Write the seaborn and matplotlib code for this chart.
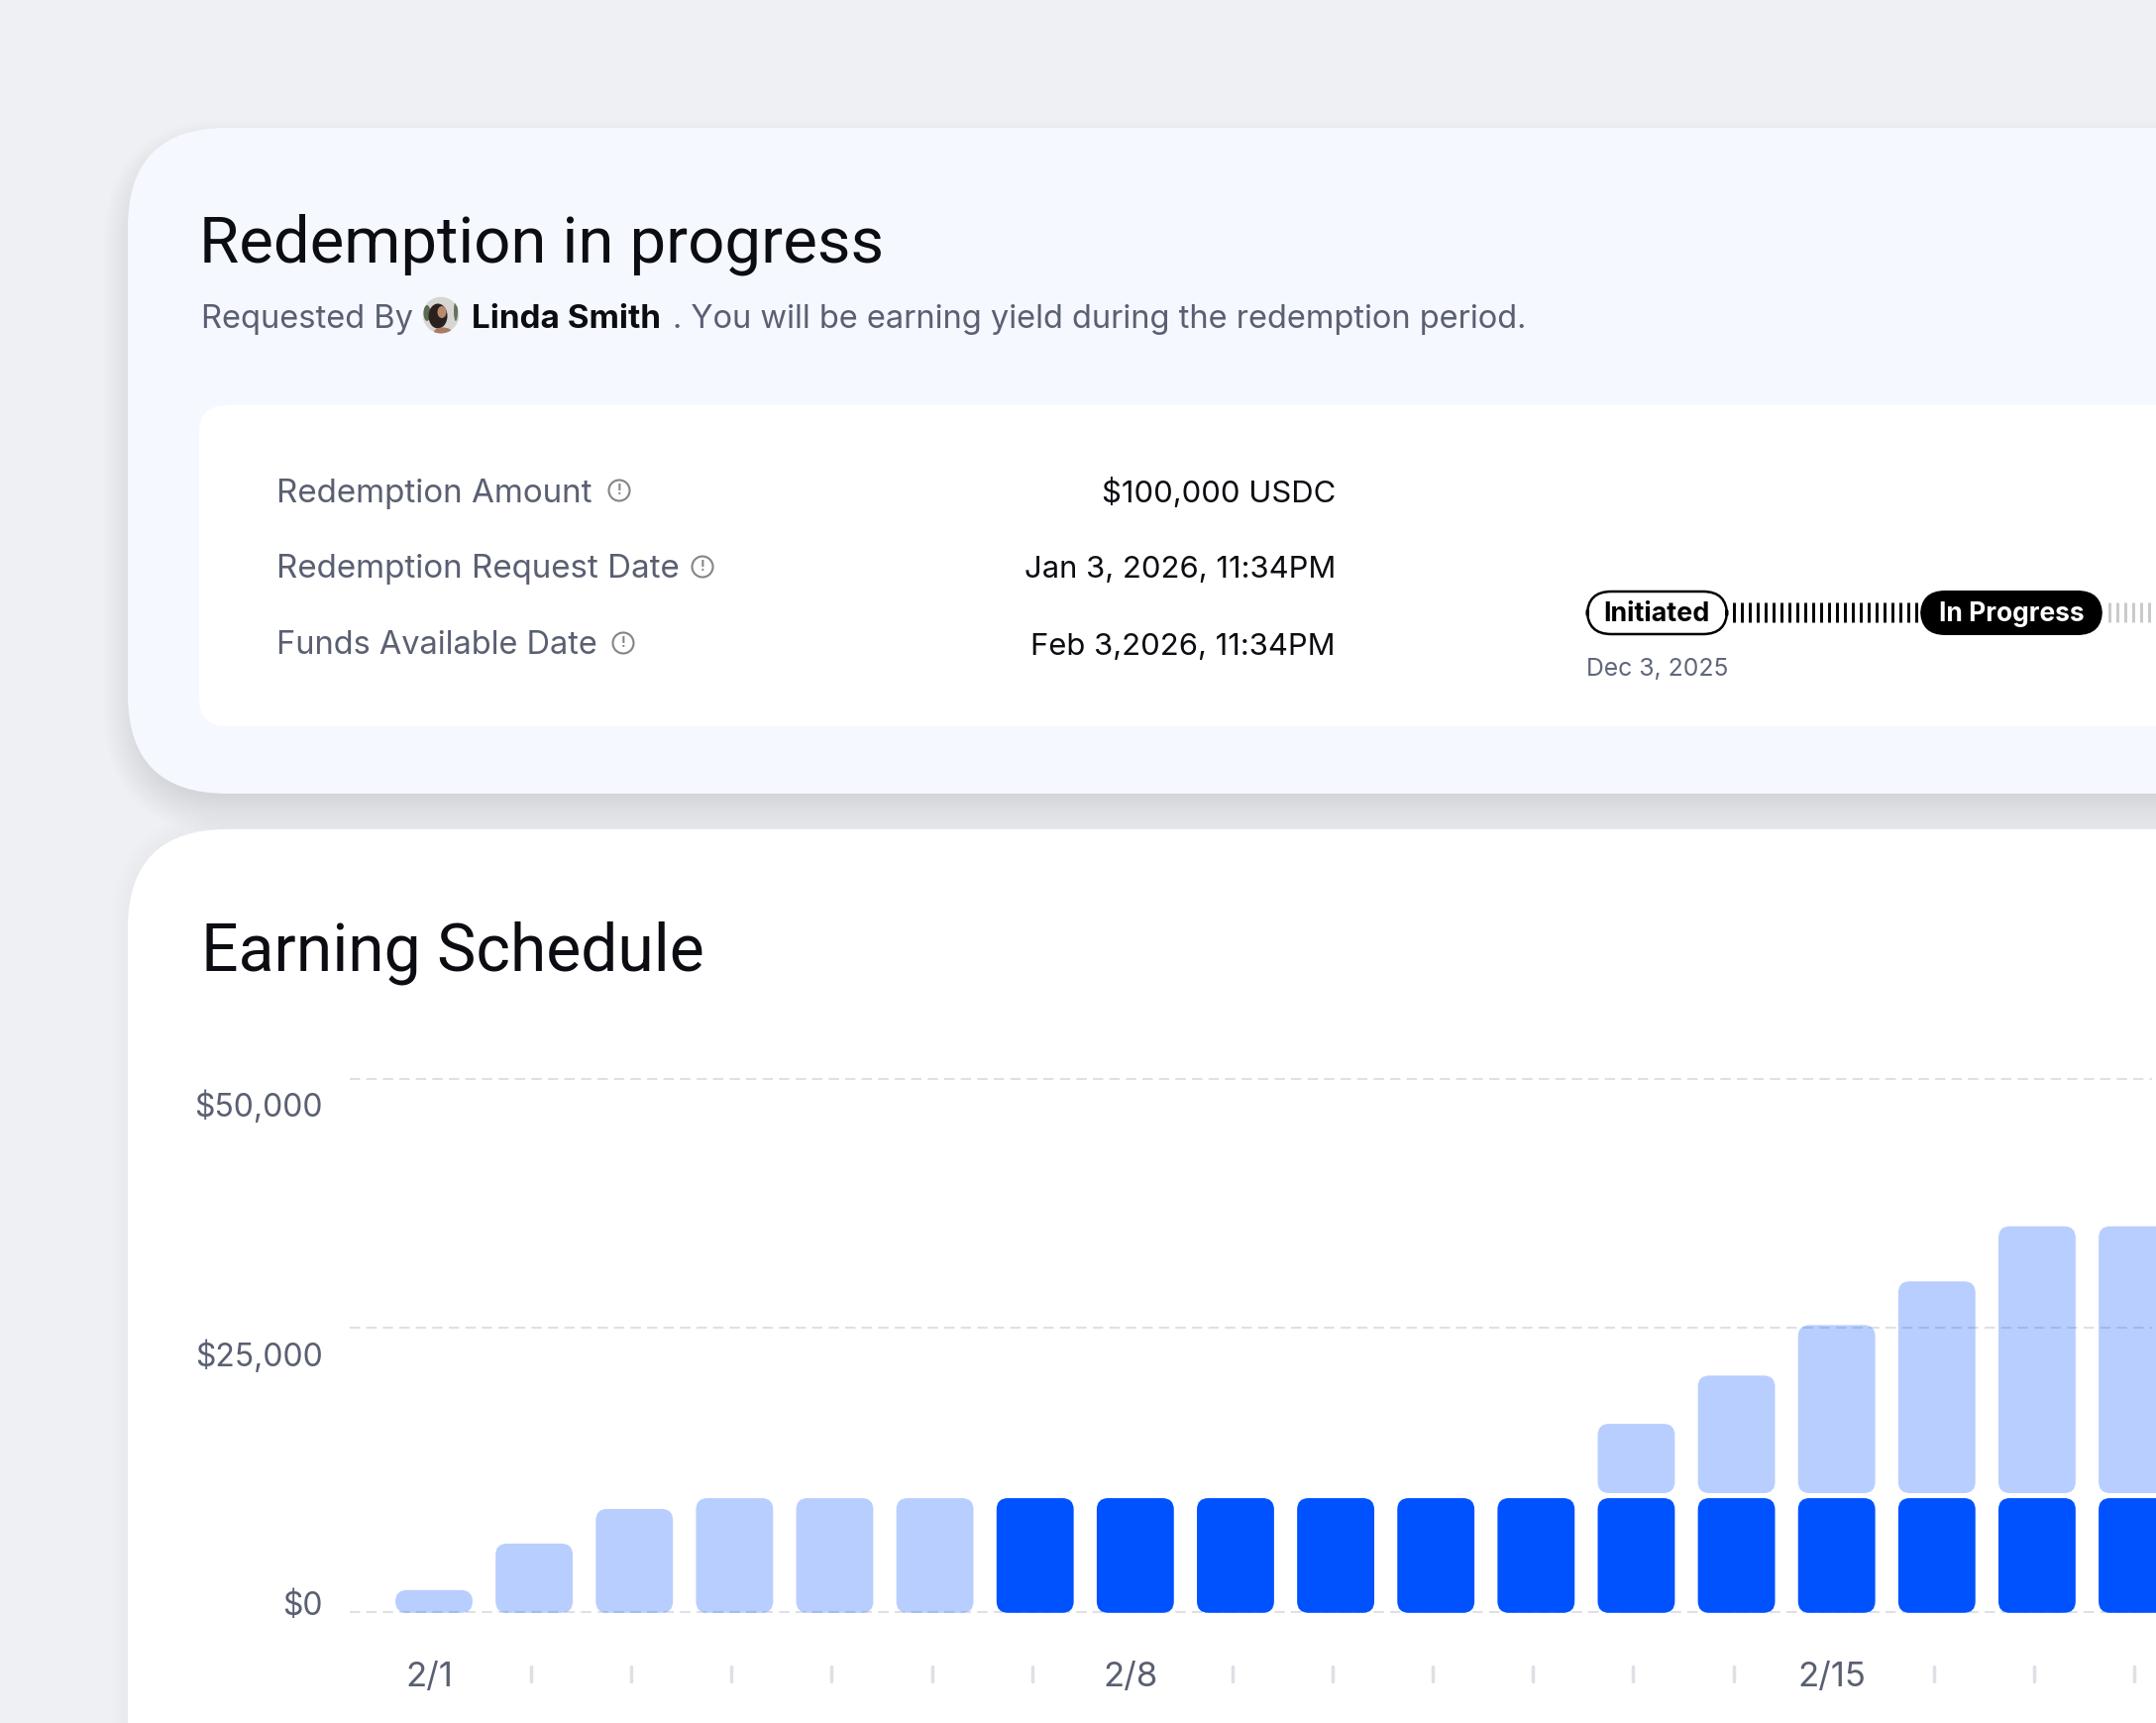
# Redemption card + earning schedule chart
import numpy as np
import matplotlib
matplotlib.use("Agg")
import matplotlib.pyplot as plt
from matplotlib.patches import FancyBboxPatch, Circle, Ellipse
import seaborn as sns

# -----------------------------
# Data
# -----------------------------
days = [f"2/{d}" for d in range(1, 19)]
settled = [0, 0, 0, 0, 0, 0, 10000, 10000, 10000, 10000, 10000, 10000,
           10000, 10000, 10000, 10000, 10000, 10000]
pending_top = [1900, 6000, 9050, 10000, 10000, 10000, 0, 0, 0, 0, 0, 0,
               16550, 20800, 25250, 29100, 33950, 33950]
grid_values = [0, 25000, 46900]          # the $50,000 line sits lower than a true scale
y_labels = ["$0", "$25,000", "$50,000"]
y_label_values = [750, 22750, 44750]
label_every = 7

summary_labels = ["Redemption Amount", "Redemption Request Date", "Funds Available Date"]
summary_values = ["$100,000 USDC", "Jan 3, 2026, 11:34PM", "Feb 3,2026, 11:34PM"]

# -----------------------------
# Style
# -----------------------------
BLUE = "#0052FF"
GRAY_TEXT = "#5A6072"
INK = "#0B0D12"
GRID = "#DFE0E5"

sns.set_theme(style="white")
plt.rcParams["font.family"] = ["Inter", "DejaVu Sans"]

W, H = 2176, 1739
fig = plt.figure(figsize=(W / 100, H / 100), dpi=100, facecolor="#EFF0F4")

# full-figure axes in pixel coordinates, y pointing down
bg = fig.add_axes([0, 0, 1, 1], zorder=0)
bg.set_xlim(0, W)
bg.set_ylim(H, 0)
bg.axis("off")


def rounded(ax, x, y, w, h, r, **kw):
    # matplotlib's corner is a quadratic curve, 1.15 brings it near a circular one
    p = FancyBboxPatch((x, y), w, h, boxstyle=f"round,pad=0,rounding_size={r * 1.15}", **kw)
    ax.add_patch(p)
    return p


def label(x, y, s, size, color=INK, **kw):
    bg.text(x, y, s, fontsize=size, color=color, va="baseline", **kw)


def shadow(x, y, w, h, r, spread, drop, alpha):
    for k in range(spread, -spread, -3):
        rounded(bg, x - k, y - k + drop, w + 2 * k, h + 2 * k, max(r + k, 4),
                fc="black", ec="none", alpha=alpha)


# -----------------------------
# Cards
# -----------------------------
shadow(129, 129, 2300, 672, 87, 24, 16, 0.0062)
rounded(bg, 129, 129, 2300, 672, 87, fc="#F5F8FF", ec="none")
rounded(bg, 201, 409, 2300, 324, 24, fc="white", ec="none")
shadow(129, 837, 2300, 1200, 87, 18, 0, 0.003)
rounded(bg, 129, 837, 2300, 1200, 87, fc="white", ec="none")

# -----------------------------
# Header text
# -----------------------------
label(201, 265, "Redemption in progress", 47, family="Roboto")
label(203, 331, "Requested By", 23.5, GRAY_TEXT)
label(476, 331, "Linda Smith", 23.9, INK, fontweight="bold")
label(679, 331, ". You will be earning yield during the redemption period.", 23.5, GRAY_TEXT)
label(203, 980, "Earning Schedule", 47.5, family="Roboto")

# avatar
clip = Circle((445, 318), 18.5, transform=bg.transData)
for shape in [
    Circle((445, 318), 18.5, fc="#D8D6D2", ec="none"),
    Ellipse((431, 316), 7, 16, fc="#5A6A55", ec="none"),
    Ellipse((460, 314), 4, 20, fc="#66705F", ec="none"),
    Ellipse((442, 319), 19, 25, fc="#2A211E", ec="none"),
    Ellipse((446, 315), 9, 12, fc="#B98A70", ec="none"),
    Ellipse((447, 335), 18, 9, fc="#A97C62", ec="none"),
]:
    bg.add_patch(shape)
    shape.set_clip_path(clip)

# -----------------------------
# Summary rows
# -----------------------------
row_base = [507, 583.5, 660.5]
row_size = [23.9, 23.9, 23.4]
icon_pos = [(625, 495), (709, 572), (629, 649)]
for text, value, base, fs, (ix, iy) in zip(summary_labels, summary_values, row_base, row_size, icon_pos):
    label(279, base, text, fs, GRAY_TEXT)
    label(1348, base, value, 22.3, INK, ha="right")
    bg.add_patch(Circle((ix, iy), 10.5, fc="none", ec="#858585", lw=1.5))
    bg.text(ix, iy, "!", fontsize=10, color="#858585", fontweight="bold", ha="center", va="center")

# -----------------------------
# Progress pills
# -----------------------------
bg.vlines(np.arange(1750, 1936, 8), 608, 628, color="black", lw=2.1)
bg.vlines(np.arange(2129, 2176, 8), 608, 628, color="#C9C9C9", lw=2.1)
rounded(bg, 1602, 597, 141, 43, 21, fc="white", ec="black", lw=1.8)
rounded(bg, 1938, 596, 184, 45, 22, fc="black", ec="none")
bg.text(1672, 627, "Initiated", fontsize=19.4, color="black", fontweight="bold", ha="center", va="baseline")
bg.text(2030, 627, "In Progress", fontsize=19, color="white", fontweight="bold", ha="center", va="baseline")
label(1601, 682, "Dec 3, 2025", 17.8, "#5F6679")

# -----------------------------
# Earning chart
# -----------------------------
px_per_day = 101.12
first_center = 438
value_per_px = 87.3
zero_px = 1626.6
ax_left, ax_top, ax_bottom = 352.5, 1000, 1640

ax = fig.add_axes([ax_left / W, 1 - ax_bottom / H, 1 - ax_left / W, (ax_bottom - ax_top) / H], zorder=1)
ax.patch.set_alpha(0)

sns.barplot(x=days, y=settled, color=BLUE, saturation=1, width=0.77, errorbar=None, ax=ax)
n_settled = len(ax.patches)
sns.barplot(x=days, y=pending_top, color=BLUE, saturation=1, width=0.77, errorbar=None, ax=ax)

ax.set_xlim((ax_left - first_center) / px_per_day, (W - first_center) / px_per_day)
ax.set_ylim((zero_px - ax_bottom) * value_per_px, (zero_px - ax_top) * value_per_px)
sns.despine(ax=ax, left=True, bottom=True)

ax.hlines(grid_values, ax.get_xlim()[0], (2172 - first_center) / px_per_day,
          color=GRID, lw=1.5, linestyle=(0, (5, 3)), zorder=1)

# swap the square bars for rounded ones, keeping what seaborn laid out
to_px = ax.transData + bg.transData.inverted()
bars = list(ax.patches)
for i, bar in enumerate(bars):
    is_settled = i < n_settled
    idx = i if is_settled else i - n_settled
    top = bar.get_height()
    bar.remove()
    if top <= 0:
        continue
    # light segments float just above the settled part, others dip under the baseline
    base = -105
    if not is_settled and settled[idx] > 0:
        base = settled[idx] + 440
    x0, y0 = to_px.transform((bar.get_x(), base))
    x1, y1 = to_px.transform((bar.get_x() + bar.get_width(), top))
    rounded(ax, x0, y1, x1 - x0, y0 - y1, 10, fc=BLUE, ec="none",
            alpha=1 if is_settled else 0.28, transform=bg.transData, zorder=3, clip_on=False)

# axis labels
shift = -0.05
ax.set_yticks(y_label_values, y_labels)
ax.set_xticks([i + shift for i in range(0, len(days), label_every)], days[::label_every])
ax.tick_params(axis="both", length=0, labelsize=23, labelcolor=GRAY_TEXT)
ax.tick_params(axis="x", labelsize=25, pad=26.5)
ax.tick_params(axis="y", pad=19.4)

# short marks for the unlabelled days
marks = [i - 0.03 for i in range(len(days)) if i % label_every]
ax.vlines(marks, (zero_px - 1697) * value_per_px, (zero_px - 1682) * value_per_px,
          color=GRID, lw=2.5, capstyle="round", clip_on=False)

fig.savefig("out.png", dpi=100, facecolor=fig.get_facecolor())
